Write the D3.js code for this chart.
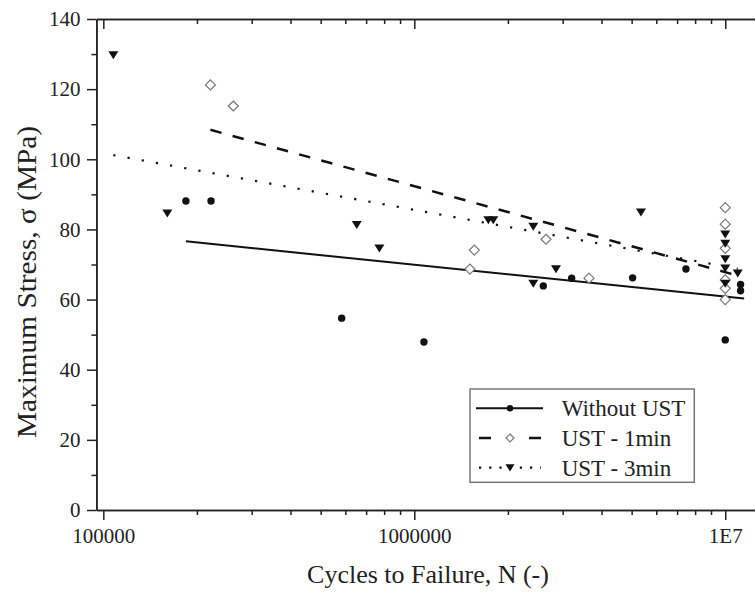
<!DOCTYPE html>
<html>
<head>
<meta charset="utf-8">
<script src="https://cdn.jsdelivr.net/npm/d3@7"></script>
<style>
body { margin: 0; background: white; }
svg text { font-family: "Times New Roman", "Liberation Serif", serif; fill: #222; }
</style>
</head>
<body>
<div id="data-vis"></div>
<script>
//DATA
//Without UST - cycles and stress
const withoutN = [184300, 222000, 584000, 1074000, 2599000, 3207000, 5036000, 7474000, 10000000, 11200000, 11200000];
const withoutS = [88.1, 88.1, 54.7, 47.9, 63.9, 66.1, 66.2, 68.7, 48.5, 64.3, 62.5];

//UST - 1min
const min1N = [221000, 261800, 1510000, 1560000, 2652000, 3646000, 10000000, 10000000, 10000000, 10000000, 10000000, 10000000];
const min1S = [121.2, 115.2, 68.7, 74.1, 77.2, 66.1, 86.2, 81.5, 74.6, 65.6, 63.2, 60.0];

//UST - 3min
const min3N = [107700, 160600, 653000, 772000, 1730000, 1795000, 2413000, 2413000, 2855000, 5357000, 10000000, 10000000, 10000000, 10000000, 10000000, 10970000];
const min3S = [129.7, 84.6, 81.3, 74.6, 82.7, 82.7, 80.8, 64.6, 68.7, 84.9, 78.6, 76.0, 71.6, 68.9, 64.6, 67.5];

//Fitted lines (start and end)
const fitWithoutN = [184300, 11500000];
const fitWithoutS = [76.6, 60.3];
const fit1N = [221000, 10600000];
const fit1S = [108.4, 67.2];
const fit3N = [107700, 10970000];
const fit3S = [101.2, 68.8];

//Ticks
const xMajor = [1e5, 1e6, 1e7];
const xLabels = ["100000", "1000000", "1E7"];
const xMinor = [2e5, 3e5, 4e5, 5e5, 6e5, 7e5, 8e5, 9e5, 2e6, 3e6, 4e6, 5e6, 6e6, 7e6, 8e6, 9e6];
const yMajor = [0, 20, 40, 60, 80, 100, 120, 140];
const yMinor = [10, 30, 50, 70, 90, 110, 130];

//Legend entries
const legendNames = ["Without UST", "UST - 1min", "UST - 3min"];

//SCRIPT PROPERTIES
let w = 755;
let h = 594;

//Scales
let x = d3.scaleLog().domain([95000, 14000000]).range([96.4, 770.7]);
let y = d3.scaleLinear().domain([0, 140]).range([510, 19]);

let svg = d3.select("#data-vis")
            .append("svg")
            .attr("width", w)
            .attr("height", h)
            .style("background-color", "white");

//Bottom axis (major + minor)
svg.append("g")
    .attr("class", "axis")
    .attr("transform", "translate(0," + y(0) + ")")
    .call(d3.axisBottom(x).tickValues(xMajor).tickFormat((d, i) => xLabels[i]).tickSize(10).tickSizeOuter(0).tickPadding(8));
svg.append("g")
    .attr("class", "axis")
    .attr("transform", "translate(0," + y(0) + ")")
    .call(d3.axisBottom(x).tickValues(xMinor).tickFormat("").tickSize(5).tickSizeOuter(0));

//Top axis - ticks point inward
svg.append("g")
    .attr("class", "axis")
    .attr("transform", "translate(0," + y(140) + ")")
    .call(d3.axisBottom(x).tickValues(xMajor).tickFormat("").tickSize(10).tickSizeOuter(0));
svg.append("g")
    .attr("class", "axis")
    .attr("transform", "translate(0," + y(140) + ")")
    .call(d3.axisBottom(x).tickValues(xMinor).tickFormat("").tickSize(5).tickSizeOuter(0));

//Left axis
svg.append("g")
    .attr("class", "axis")
    .attr("transform", "translate(" + x.range()[0] + ",0)")
    .call(d3.axisLeft(y).tickValues(yMajor).tickSize(9.4).tickSizeOuter(0).tickPadding(6.5));
svg.append("g")
    .attr("class", "axis")
    .attr("transform", "translate(" + x.range()[0] + ",0)")
    .call(d3.axisLeft(y).tickValues(yMinor).tickFormat("").tickSize(5).tickSizeOuter(0));

//Axis styling
svg.selectAll(".axis path, .axis line")
    .attr("stroke", "#222")
    .attr("stroke-width", 1.5);
svg.selectAll(".axis text")
    .attr("font-size", 21)
    .attr("fill", "#222");

//Axis titles
svg.append("text")
    .attr("x", 428)
    .attr("y", 583)
    .attr("text-anchor", "middle")
    .attr("font-size", 26)
    .text("Cycles to Failure, N (-)");

svg.append("text")
    .attr("transform", "translate(36,282) rotate(-90)")
    .attr("text-anchor", "middle")
    .attr("font-size", 27)
    .attr("textLength", 312)
    .attr("lengthAdjust", "spacingAndGlyphs")
    .text("Maximum Stress, σ (MPa)");

//Fit lines
let line = d3.line().x(d => x(d[0])).y(d => y(d[1]));
const lineStyles = [
    {dash: null, width: 2},
    {dash: "11.5,11.5", width: 2.5},
    {dash: "2.2,12.2", width: 2.2}
];
const fits = [
    d3.zip(fitWithoutN, fitWithoutS),
    d3.zip(fit1N, fit1S),
    d3.zip(fit3N, fit3S)
];
fits.forEach((f, i) => {
    svg.append("path")
        .attr("d", line(f))
        .attr("fill", "none")
        .attr("stroke", "#111")
        .attr("stroke-width", lineStyles[i].width)
        .attr("stroke-dasharray", lineStyles[i].dash);
});

//Marker drawing helpers
function drawCircle(g, cx, cy, r) {
    g.append("circle").attr("cx", cx).attr("cy", cy).attr("r", r).attr("fill", "#111");
}
function drawDiamond(g, cx, cy, s) {
    g.append("path")
        .attr("d", "M" + cx + "," + (cy - s) + "L" + (cx + s) + "," + cy + "L" + cx + "," + (cy + s) + "L" + (cx - s) + "," + cy + "Z")
        .attr("fill", "white")
        .attr("stroke", "#777")
        .attr("stroke-width", 1.2);
}
function drawTriangle(g, cx, cy, s) {
    g.append("path")
        .attr("d", "M" + (cx - s) + "," + (cy - s * 0.75) + "L" + (cx + s) + "," + (cy - s * 0.75) + "L" + cx + "," + (cy + s * 0.85) + "Z")
        .attr("fill", "#111");
}

//Points
let pts = svg.append("g");
d3.zip(min1N, min1S).forEach(d => drawDiamond(pts, x(d[0]), y(d[1]), 5));
d3.zip(withoutN, withoutS).forEach(d => drawCircle(pts, x(d[0]), y(d[1]), 3.7));
d3.zip(min3N, min3S).forEach(d => drawTriangle(pts, x(d[0]), y(d[1]), 5));

//Legend
let legend = svg.append("g");
legend.append("rect")
    .attr("x", 470)
    .attr("y", 389)
    .attr("width", 224.3)
    .attr("height", 93.3)
    .attr("fill", "white")
    .attr("stroke", "#777")
    .attr("stroke-width", 1.5);

legendNames.forEach((name, i) => {
    let ly = 408.3 + i * 29.7;
    legend.append("line")
        .attr("x1", i == 0 ? 476 : 479).attr("x2", i == 0 ? 543 : 541)
        .attr("y1", ly).attr("y2", ly)
        .attr("stroke", "#111")
        .attr("stroke-width", lineStyles[i].width)
        .attr("stroke-dasharray", i == 1 ? "12,38" : (i == 2 ? "2.2,8" : null));
    if (i == 0) drawCircle(legend, 510, ly, 3.2);
    if (i == 1) drawDiamond(legend, 510, ly, 4);
    if (i == 2) drawTriangle(legend, 510, ly, 4.5);
    legend.append("text")
        .attr("x", 561.7)
        .attr("y", ly + 8)
        .attr("font-size", 23)
        .text(name);
});
</script>
</body>
</html>
